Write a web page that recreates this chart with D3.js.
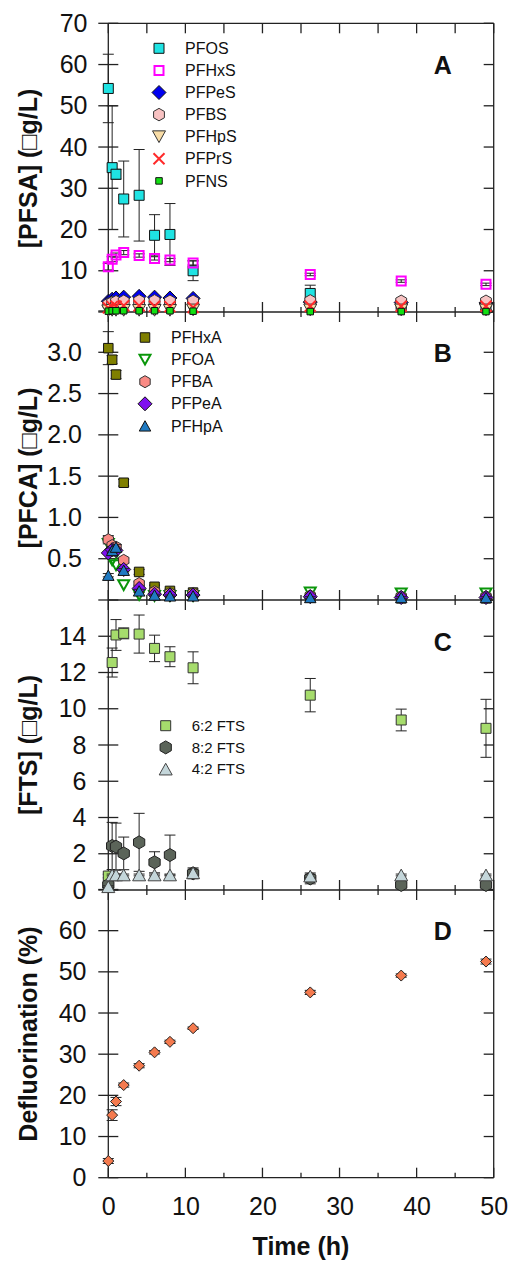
<!DOCTYPE html>
<html>
<head>
<meta charset="utf-8">
<script src="https://cdn.jsdelivr.net/npm/d3@7"></script>
<style>
  body { margin: 0; background: #fff; }
  svg text { font-family: "Liberation Sans", Arial, sans-serif; fill: #111; }
</style>
</head>
<body>
<svg id="chart" width="510" height="1261"></svg>
<script>
// sampling times (h)
const time = [0, 0.5, 1, 2, 4, 6, 8, 11, 26.2, 38, 49];

// A: PFSA concentrations
const pfos     = [54.2, 35.0, 33.4, 27.4, 28.3, 18.6, 18.8, 10.0, 4.5, 1.5, 1.0];
const pfosErr  = [8.3, 15.0, 1.2, 9.2, 11.1, 5.0, 7.5, 2.4, 2.0, 0.5, 0.4];
const pfhxs    = [11.0, 12.8, 13.8, 14.4, 13.7, 13.0, 12.6, 11.9, 9.1, 7.5, 6.7];
const pfhxsErr = [0.8, 0.6, 0.5, 0.5, 0.4, 0.4, 0.4, 0.5, 0.3, 0.3, 0.3];
const pfpes    = [2.6, 3.1, 3.4, 3.6, 3.8, 3.6, 3.4, 3.3, 2.4, 2.3, 2.2];
const pfpesErr = [0.2, 0.2, 0.2, 0.2, 0.2, 0.2, 0.2, 0.2, 0.2, 0.2, 0.2];
const pfbs     = [1.9, 2.3, 2.5, 2.6, 2.7, 2.7, 2.6, 2.6, 2.7, 2.6, 2.6];
const pfbsErr  = [0.2, 0.2, 0.2, 0.2, 0.2, 0.2, 0.2, 0.2, 0.2, 0.2, 0.2];
const pfhps    = [0.3, 0.4, 0.4, 0.4, 0.4, 0.4, 0.4, 0.5, 0.5, 0.5, 0.5];
const pfprs    = [1.0, 1.3, 1.4, 1.5, 1.5, 1.4, 1.3, 1.1, 1.4, 1.4, 1.4];
const pfns     = [0.2, 0.3, 0.3, 0.3, 0.3, 0.3, 0.3, 0.2, 0.1, 0.1, 0.1];

// B: PFCA concentrations
const pfhxa    = [3.05, 2.91, 2.73, 1.42, 0.34, 0.16, 0.11, 0.09, 0.03, 0.02, 0.02];
const pfhxaErr = [0.2, 0.05, 0.05, 0.04, 0.03, 0.02, 0.02, 0.02, 0.01, 0.01, 0.01];
const pfoa     = [0.68, 0.48, 0.42, 0.18, 0.06, 0.05, 0.05, 0.05, 0.09, 0.08, 0.08];
const pfba     = [0.73, 0.66, 0.64, 0.48, 0.2, 0.1, 0.08, 0.08, 0.05, 0.04, 0.04];
const pfbaErr  = [0.05, 0.03, 0.03, 0.03, 0.02, 0.02, 0.02, 0.02, 0.01, 0.01, 0.01];
const pfpea    = [0.57, 0.61, 0.6, 0.37, 0.14, 0.07, 0.06, 0.06, 0.04, 0.03, 0.03];
const pfhpa    = [0.3, 0.6, 0.64, 0.36, 0.11, 0.06, 0.05, 0.05, 0.03, 0.03, 0.03];
const pfhpaErr = [0.02, 0.03, 0.03, 0.02, 0.02, 0.01, 0.01, 0.01, 0.01, 0.01, 0.01];

// C: FTS concentrations
const fts62    = [0.77, 12.55, 14.07, 14.16, 14.12, 13.33, 12.87, 12.26, 10.75, 9.38, 8.92];
const fts62Err = [0.1, 0.8, 0.85, 0.3, 1.05, 0.73, 0.55, 0.88, 0.92, 0.6, 1.6];
const fts82    = [0.28, 2.43, 2.39, 2.02, 2.63, 1.53, 1.93, 0.92, 0.64, 0.28, 0.28];
const fts82Err = [0.1, 1.3, 1.3, 0.9, 1.6, 0.58, 1.1, 0.3, 0.3, 0.1, 0.1];
const fts42    = [0.18, 0.83, 0.83, 0.83, 0.83, 0.83, 0.83, 0.95, 0.77, 0.83, 0.83];
const fts42Err = [0.05, 0.05, 0.05, 0.05, 0.05, 0.05, 0.05, 0.2, 0.1, 0.05, 0.05];

// D: defluorination (%)
const defl     = [4.05, 15.2, 18.5, 22.5, 27.2, 30.45, 33.0, 36.3, 45.0, 49.1, 52.5];
const deflErr  = [0.6, 1.3, 1.0, 0.5, 0.5, 0.4, 0.4, 0.3, 0.5, 0.4, 0.6];

const xTicks = [0, 10, 20, 30, 40, 50];
const xMinor = [5, 15, 25, 35, 45];

let svg = d3.select("#chart");

let x = d3.scaleLinear().domain([0, 50]).range([108.3, 493.7]);
let x0 = x(0), x1 = x(50);

// marker outlines, centred on 0,0
function shape(kind, s) {
  let h = s / 2;
  if (kind == "square") return `M${-h},${-h}H${h}V${h}H${-h}Z`;
  if (kind == "diamond") return `M0,${-h}L${h},0L0,${h}L${-h},0Z`;
  if (kind == "hexagon") {
    let pts = d3.range(6).map(i => {
      let a = Math.PI / 3 * i - Math.PI / 2;
      return [h * Math.cos(a), h * Math.sin(a)];
    });
    return "M" + pts.join("L") + "Z";
  }
  if (kind == "triUp") { let t = s * 0.45; return `M0,${-t}L${h},${t}L${-h},${t}Z`; }
  if (kind == "triDown") { let t = s * 0.45; return `M0,${t}L${h},${-t}L${-h},${-t}Z`; }
  if (kind == "cross") return `M${-h},${-h}L${h},${h}M${h},${-h}L${-h},${h}`;
}

let panels = [
  {
    letter: "A", domain: [0, 70], range: [312, 23.3],
    ticks: d3.range(0, 71, 10), labels: d3.range(10, 71, 10), fmt: d3.format("d"),
    labelEnd: 87.5, title: "[PFSA] (\u25A1g/L)", titleY: 168.5, letterY: 74,
    legend: {mx: 159, tx: 185, y: 48.3, step: 22.1, size: 16},
    series: [
      {name: "PFOS", v: pfos, e: pfosErr, kind: "square", s: 10, fill: "#1fe3e3", stroke: "#111", sw: 1},
      {name: "PFHxS", v: pfhxs, e: pfhxsErr, kind: "square", s: 9, fill: "none", stroke: "#ff00ff", sw: 2},
      {name: "PFPeS", v: pfpes, e: pfpesErr, kind: "diamond", s: 14, fill: "#0000f0", stroke: "#111", sw: 1},
      {name: "PFBS", v: pfbs, e: pfbsErr, kind: "hexagon", s: 12.5, fill: "#f8c2c2", stroke: "#333", sw: 1},
      {name: "PFHpS", v: pfhps, e: null, kind: "triDown", s: 13, fill: "#f8dca6", stroke: "#333", sw: 1},
      {name: "PFPrS", v: pfprs, e: null, kind: "cross", s: 11, fill: "none", stroke: "#ff2a2a", sw: 2},
      {name: "PFNS", v: pfns, e: null, kind: "square", s: 6.5, fill: "#12e012", stroke: "#111", sw: 1}
    ]
  },
  {
    letter: "B", domain: [0, 3.5], range: [600, 311],
    ticks: d3.range(0.5, 3.51, 0.5), labels: [0.5, 1.0, 1.5, 2.0, 2.5, 3.0], fmt: d3.format(".1f"),
    labelEnd: 82, title: "[PFCA] (\u25A1g/L)", titleY: 468, letterY: 362.3,
    legend: {mx: 145, tx: 171, y: 337.5, step: 22.1, size: 16},
    series: [
      {name: "PFHxA", v: pfhxa, e: pfhxaErr, kind: "square", s: 9.5, fill: "#7f7f00", stroke: "#111", sw: 1},
      {name: "PFOA", v: pfoa, e: null, kind: "triDown", s: 11, fill: "none", stroke: "#0a960a", sw: 2},
      {name: "PFBA", v: pfba, e: pfbaErr, kind: "hexagon", s: 12, fill: "#f98a84", stroke: "#333", sw: 1},
      {name: "PFPeA", v: pfpea, e: null, kind: "diamond", s: 14, fill: "#7f10f0", stroke: "#111", sw: 1},
      {name: "PFHpA", v: pfhpa, e: pfhpaErr, kind: "triUp", s: 11.5, fill: "#1f7ac2", stroke: "#111", sw: 1}
    ]
  },
  {
    letter: "C", domain: [0, 16], range: [890, 600],
    ticks: d3.range(0, 17, 2), labels: d3.range(0, 15, 2), fmt: d3.format("d"),
    labelEnd: 86.5, title: "[FTS] (\u25A1g/L)", titleY: 745, letterY: 650.7,
    legend: {mx: 165.7, tx: 191.7, y: 725.7, step: 21.7, size: 15},
    series: [
      {name: "6:2 FTS", v: fts62, e: fts62Err, kind: "square", s: 10, fill: "#a6dc6c", stroke: "#333", sw: 1},
      {name: "8:2 FTS", v: fts82, e: fts82Err, kind: "hexagon", s: 13, fill: "#5b6459", stroke: "#222", sw: 1},
      {name: "4:2 FTS", v: fts42, e: fts42Err, kind: "triUp", s: 13, fill: "#c4d6da", stroke: "#444", sw: 1}
    ]
  },
  {
    letter: "D", domain: [0, 70], range: [1177.7, 889.5],
    ticks: d3.range(0, 71, 10), labels: d3.range(0, 61, 10), fmt: d3.format("d"),
    labelEnd: 86.5, title: "Defluorination (%)", titleY: 1034, letterY: 940,
    legend: null,
    series: [
      {name: "Defluorination", v: defl, e: deflErr, kind: "diamond", s: 11, fill: "#f47a4e", stroke: "#222", sw: 1}
    ]
  }
];

let frame = svg.append("g").attr("class", "frame")
  .attr("stroke", "#222").attr("stroke-width", 1.3).attr("fill", "none");

// outer frame and the panel separators
let yLines = [23.3, 312, 600, 890, 1177.7];
frame.append("line").attr("x1", x0).attr("x2", x0).attr("y1", 23.3).attr("y2", 1177.7);
frame.append("line").attr("x1", x1).attr("x2", x1).attr("y1", 23.3).attr("y2", 1177.7);
yLines.forEach(yy => {
  frame.append("line").attr("x1", x0).attr("x2", x1).attr("y1", yy).attr("y2", yy);
});

// x ticks: inward at top/bottom, crossing at shared boundaries
yLines.forEach((yy, i) => {
  let up = i > 0, down = i < yLines.length - 1;
  xTicks.forEach(t => {
    frame.append("line").attr("x1", x(t)).attr("x2", x(t))
      .attr("y1", up ? yy - 10 : yy).attr("y2", down ? yy + 10 : yy);
  });
  xMinor.forEach(t => {
    let len = i == 0 ? 10 : 5;
    frame.append("line").attr("x1", x(t)).attr("x2", x(t))
      .attr("y1", up ? yy - len : yy).attr("y2", down ? yy + len : yy);
  });
});

panels.forEach(p => {
  let y = d3.scaleLinear().domain(p.domain).range(p.range);
  let g = svg.append("g").attr("class", "panel-" + p.letter);

  // y ticks crossing the left axis, inward on the right
  p.ticks.forEach(t => {
    frame.append("line").attr("x1", x0 - 10).attr("x2", x0 + 10).attr("y1", y(t)).attr("y2", y(t));
    frame.append("line").attr("x1", x1 - 10).attr("x2", x1).attr("y1", y(t)).attr("y2", y(t));
  });

  // tick labels through d3.axisLeft
  let ax = g.append("g")
    .attr("transform", "translate(" + x0 + ",0)")
    .call(d3.axisLeft(y).tickValues(p.labels).tickFormat(p.fmt)
      .tickSize(0).tickPadding(x0 - p.labelEnd));
  ax.select(".domain").remove();
  ax.selectAll("text").attr("font-size", 25)
    .attr("font-family", "Liberation Sans, Arial, sans-serif").attr("fill", "#111");

  g.append("text")
    .attr("transform", "translate(37," + p.titleY + ") rotate(-90)")
    .attr("text-anchor", "middle")
    .attr("font-size", 25).attr("font-weight", "bold")
    .text(p.title);

  g.append("text")
    .attr("x", 442.7).attr("y", p.letterY)
    .attr("text-anchor", "middle")
    .attr("font-size", 25).attr("font-weight", "bold")
    .text(p.letter);

  // series: error bars then symbols, in legend order
  p.series.forEach(s => {
    let pts = time.map((t, i) => ({t: t, v: s.v[i], e: s.e ? s.e[i] : 0}));
    let eb = g.append("g").attr("stroke", "#222").attr("stroke-width", 1);
    pts.filter(d => d.e > 0).forEach(d => {
      let cx = x(d.t), ya = y(d.v + d.e), yb = y(Math.max(d.v - d.e, p.domain[0]));
      eb.append("line").attr("x1", cx).attr("x2", cx).attr("y1", ya).attr("y2", yb);
      eb.append("line").attr("x1", cx - 5.5).attr("x2", cx + 5.5).attr("y1", ya).attr("y2", ya);
      if (d.v - d.e > p.domain[0])
        eb.append("line").attr("x1", cx - 5.5).attr("x2", cx + 5.5).attr("y1", yb).attr("y2", yb);
    });
    g.append("g").selectAll("path")
      .data(pts)
      .enter()
      .append("path")
        .attr("transform", d => "translate(" + x(d.t) + "," + y(d.v) + ")")
        .attr("d", shape(s.kind, s.s))
        .attr("fill", s.fill)
        .attr("stroke", s.stroke)
        .attr("stroke-width", s.sw);
  });

  if (p.legend) {
    let lg = g.append("g").attr("class", "legend");
    p.series.forEach((s, i) => {
      let ly = p.legend.y + i * p.legend.step;
      lg.append("path")
        .attr("transform", "translate(" + p.legend.mx + "," + ly + ")")
        .attr("d", shape(s.kind, s.s))
        .attr("fill", s.fill).attr("stroke", s.stroke).attr("stroke-width", s.sw);
      lg.append("text")
        .attr("x", p.legend.tx).attr("y", ly)
        .attr("dy", "0.35em")
        .attr("font-size", p.legend.size)
        .text(s.name);
    });
  }
});

// bring the frame above the panel groups' labels but keep markers on top
frame.lower();

// x tick labels and axis title
let xa = svg.append("g")
  .attr("transform", "translate(0,1177.7)")
  .call(d3.axisBottom(x).tickValues(xTicks).tickFormat(d3.format("d")).tickSize(0).tickPadding(19.6));
xa.select(".domain").remove();
xa.selectAll("text").attr("font-size", 25)
  .attr("font-family", "Liberation Sans, Arial, sans-serif").attr("fill", "#111");

svg.append("text")
  .attr("x", x(25)).attr("y", 1255)
  .attr("text-anchor", "middle")
  .attr("font-size", 25).attr("font-weight", "bold")
  .text("Time (h)");
</script>
</body>
</html>
